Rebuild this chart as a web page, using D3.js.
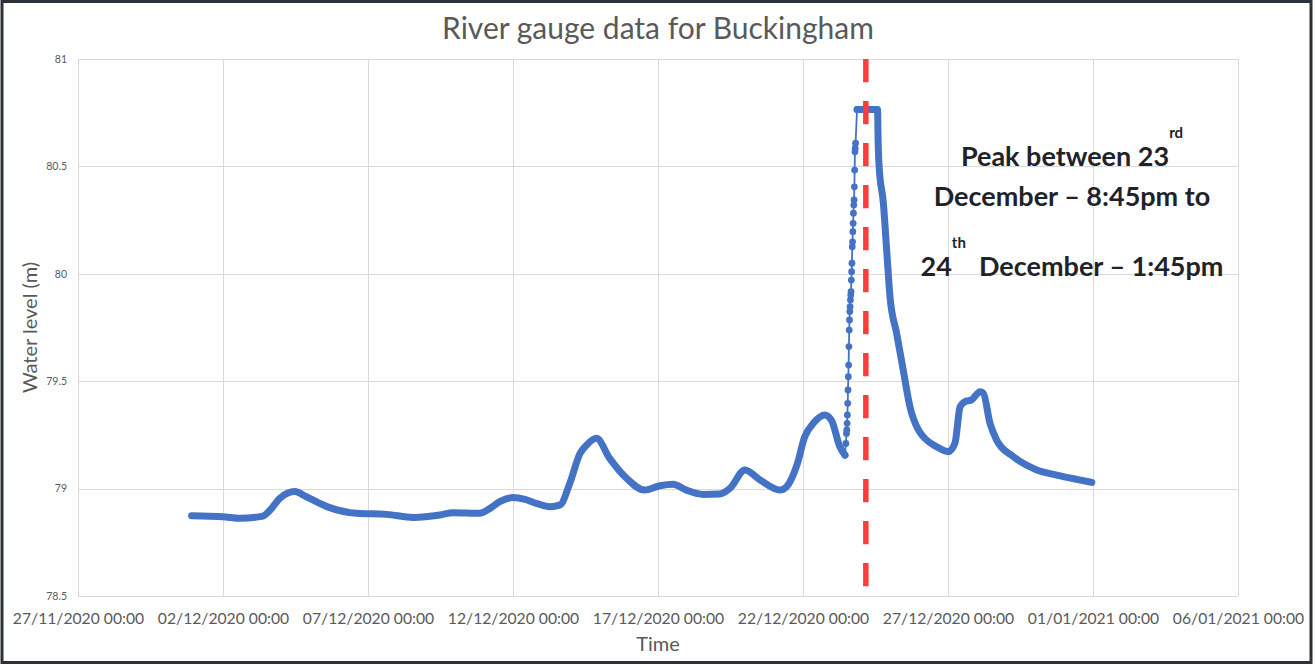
<!DOCTYPE html>
<html lang="en">
<head>
    <meta charset="UTF-8">
    <title>River gauge data for Buckingham</title>
    <script src="https://d3js.org/d3.v7.min.js"></script>
    <style>
        body { margin: 0; background: #fff; }
        #chart svg { display: block; }
        .grid line { stroke: #d9d9d9; stroke-width: 1px; shape-rendering: crispEdges; }
        .x-axis text { font-family: Lato, "Open Sans", sans-serif; font-size: 15.7px; fill: #595959; }
        .y-axis text { font-family: Lato, "Open Sans", sans-serif; font-size: 10.5px; fill: #595959; }
        .chart-title { font-family: Lato, "Open Sans", sans-serif; font-size: 30px; fill: #595959; text-anchor: middle; }
        .axis-title { font-family: Lato, "Open Sans", sans-serif; font-size: 20px; fill: #595959; text-anchor: middle; }
        .note { font-family: Lato, "Open Sans", sans-serif; font-weight: bold; font-size: 27px; fill: #1f2329; text-anchor: middle; }
        .note .sup { font-size: 15px; }
    </style>
</head>
<body>
<div id="chart"></div>
<script>
    // --- Data ---
    // before the flood rise (smooth, dense readings)
    const earlyTimes = ["2020-11-30T22:00","2020-12-02T00:00","2020-12-02T14:00","2020-12-03T09:00","2020-12-03T15:00",
        "2020-12-03T23:00","2020-12-04T11:30","2020-12-04T21:00","2020-12-05T14:00","2020-12-06T14:30","2020-12-07T15:30",
        "2020-12-08T13:30","2020-12-09T11:30","2020-12-09T22:30","2020-12-10T20:30","2020-12-11T05:00","2020-12-11T13:00",
        "2020-12-12T00:00","2020-12-12T10:00","2020-12-12T20:00","2020-12-13T06:30","2020-12-13T15:00","2020-12-13T23:00",
        "2020-12-14T07:30","2020-12-14T13:00","2020-12-14T21:00","2020-12-15T08:00","2020-12-15T22:00","2020-12-16T13:00",
        "2020-12-17T01:30","2020-12-17T12:30","2020-12-17T23:30","2020-12-18T13:30","2020-12-19T03:00","2020-12-19T11:30",
        "2020-12-20T00:00","2020-12-20T12:30","2020-12-21T05:00","2020-12-21T10:30","2020-12-21T19:00","2020-12-22T01:30",
        "2020-12-22T08:30","2020-12-22T18:00","2020-12-22T23:30","2020-12-23T06:30","2020-12-23T10:45"];
    const earlyLevels = [78.874,78.869,78.862,78.872,78.900,78.955,78.986,78.962,78.916,78.885,78.880,78.866,78.877,
        78.888,78.885,78.908,78.939,78.958,78.950,78.930,78.916,78.924,79.025,79.164,79.203,79.234,79.141,79.048,78.993,
        79.013,79.020,78.993,78.973,78.975,79.001,79.087,79.040,78.993,79.009,79.110,79.242,79.304,79.343,79.319,79.195,79.156];

    // the rise on 23 December (15 minute readings, drawn as separate markers)
    const riseTimes = ["2020-12-23T10:45","2020-12-23T11:30",
        "2020-12-23T12:00","2020-12-23T12:15","2020-12-23T12:30","2020-12-23T12:45","2020-12-23T13:00","2020-12-23T13:15",
        "2020-12-23T13:30","2020-12-23T13:45","2020-12-23T14:00","2020-12-23T14:15","2020-12-23T14:30","2020-12-23T14:45",
        "2020-12-23T15:00","2020-12-23T15:15","2020-12-23T15:30","2020-12-23T15:45","2020-12-23T16:00","2020-12-23T16:15",
        "2020-12-23T16:30","2020-12-23T16:45","2020-12-23T17:00","2020-12-23T17:15","2020-12-23T17:30","2020-12-23T17:45",
        "2020-12-23T18:00","2020-12-23T18:15","2020-12-23T18:30","2020-12-23T18:45","2020-12-23T19:00","2020-12-23T19:15",
        "2020-12-23T19:30","2020-12-23T20:45"];
    const riseLevels = [79.156,79.210,
        79.257,79.273,79.304,79.343,79.397,79.459,79.521,79.575,79.661,79.738,
        79.785,79.824,79.847,79.878,79.901,79.917,79.971,80.010,80.049,80.126,
        80.149,80.196,80.235,80.282,80.320,80.344,80.405,80.483,80.568,80.584,
        80.608,80.765];

    // peak plateau and recession
    const lateTimes = ["2020-12-23T20:45","2020-12-24T13:45","2020-12-24T14:00","2020-12-24T15:00","2020-12-24T18:30",
        "2020-12-24T21:15","2020-12-25T00:00","2020-12-25T05:30","2020-12-25T11:00","2020-12-25T16:30","2020-12-25T23:30",
        "2020-12-26T03:30","2020-12-26T14:30","2020-12-27T00:15","2020-12-27T05:45","2020-12-27T10:00","2020-12-27T14:00",
        "2020-12-27T19:30","2020-12-28T02:30","2020-12-28T05:15","2020-12-28T10:45","2020-12-28T16:15","2020-12-29T06:00",
        "2020-12-30T01:30","2020-12-30T18:00","2020-12-31T10:30","2020-12-31T23:00"];
    const lateLevels = [80.765,80.765,80.670,80.500,80.330,80.110,79.893,79.723,79.550,79.381,79.273,79.242,79.195,
        79.172,79.211,79.381,79.405,79.413,79.451,79.444,79.304,79.226,79.149,79.087,79.063,79.043,79.029];

    const peakMarkerTime = "2020-12-24T04:00";

    const xTicks = ["2020-11-27T00:00","2020-12-02T00:00","2020-12-07T00:00","2020-12-12T00:00","2020-12-17T00:00",
        "2020-12-22T00:00","2020-12-27T00:00","2021-01-01T00:00","2021-01-06T00:00"];
    const yTicks = [78.5, 79, 79.5, 80, 80.5, 81];
    const yTickLabels = ["78.5", "79", "79.5", "80", "80.5", "81"];

    // --- Chart setup ---
    const W = 1315, H = 665;
    const plot = { left: 78, right: 1238, top: 59, bottom: 596 };
    const parse = d3.timeParse("%Y-%m-%dT%H:%M");
    const fmt = d3.timeFormat("%d/%m/%Y %H:%M");

    const svg = d3.select("#chart").append("svg").attr("width", W).attr("height", H);

    const x = d3.scaleTime().domain([parse(xTicks[0]), parse(xTicks[xTicks.length - 1])]).range([plot.left, plot.right]);
    const y = d3.scaleLinear().domain([78.5, 81]).range([plot.bottom, plot.top]);

    // outer frame
    svg.append("rect").attr("x", 2).attr("y", 1.5).attr("width", W - 6).attr("height", H - 4)
        .attr("fill", "none").attr("stroke", "#2b3039").attr("stroke-width", 3);

    svg.append("text").attr("class", "chart-title").attr("x", (plot.left + plot.right) / 2).attr("y", 39)
        .text("River gauge data for Buckingham");

    // gridlines + tick labels
    svg.append("g").attr("class", "grid x-axis").attr("transform", `translate(0,${plot.bottom})`)
        .call(d3.axisBottom(x).tickValues(xTicks.map(parse)).tickSize(-(plot.bottom - plot.top)).tickPadding(17).tickFormat(fmt));
    svg.append("g").attr("class", "grid y-axis").attr("transform", `translate(${plot.left},0)`)
        .call(d3.axisLeft(y).tickValues(yTicks).tickSize(-(plot.right - plot.left)).tickPadding(11)
            .tickFormat((d, i) => yTickLabels[i]));
    svg.selectAll(".grid .domain").remove();

    svg.append("text").attr("class", "axis-title").attr("x", (plot.left + plot.right) / 2).attr("y", 651).text("Time");
    svg.append("text").attr("class", "axis-title").attr("transform", "rotate(-90)")
        .attr("x", -(plot.top + plot.bottom) / 2).attr("y", 37).text("Water level (m)");

    // series
    const toPoints = (ts, vs) => ts.map((t, i) => ({ t: parse(t), v: vs[i] }));
    const early = toPoints(earlyTimes, earlyLevels);
    const rise = toPoints(riseTimes, riseLevels);
    const late = toPoints(lateTimes, lateLevels);

    const denseLine = d3.line().x(d => x(d.t)).y(d => y(d.v)).curve(d3.curveMonotoneX);
    const thinLine = d3.line().x(d => x(d.t)).y(d => y(d.v));
    const blue = "#4472c4";

    svg.append("path").datum(rise).attr("d", thinLine).attr("fill", "none").attr("stroke", blue).attr("stroke-width", 1.8);
    svg.append("g").selectAll("circle").data(rise).join("circle")
        .attr("cx", d => x(d.t)).attr("cy", d => y(d.v)).attr("r", 3.4).attr("fill", blue);
    [early, late].forEach(seg => {
        svg.append("path").datum(seg).attr("d", denseLine).attr("fill", "none").attr("stroke", blue)
            .attr("stroke-width", 7).attr("stroke-linecap", "round").attr("stroke-linejoin", "round");
    });

    // peak marker
    const px = x(parse(peakMarkerTime));
    svg.append("line").attr("x1", px).attr("x2", px).attr("y1", plot.top).attr("y2", 587)
        .attr("stroke", "#ff3b3b").attr("stroke-width", 5.5).attr("stroke-dasharray", "23.3,18.7");

    // annotation
    const note = svg.append("text").attr("class", "note");
    const cx = 1072;
    const l1 = note.append("tspan").attr("x", cx).attr("y", 166);
    l1.append("tspan").text("Peak between 23");
    l1.append("tspan").attr("class", "sup").attr("dy", -28).text("rd");
    note.append("tspan").attr("x", cx).attr("y", 206).text("December \u2013 8:45pm to");
    const l3 = note.append("tspan").attr("x", cx).attr("y", 276);
    l3.append("tspan").text("24");
    l3.append("tspan").attr("class", "sup").attr("dy", -28).text("th");
    l3.append("tspan").attr("dy", 28).text("\u00a0 December \u2013 1:45pm");
</script>
</body>
</html>
